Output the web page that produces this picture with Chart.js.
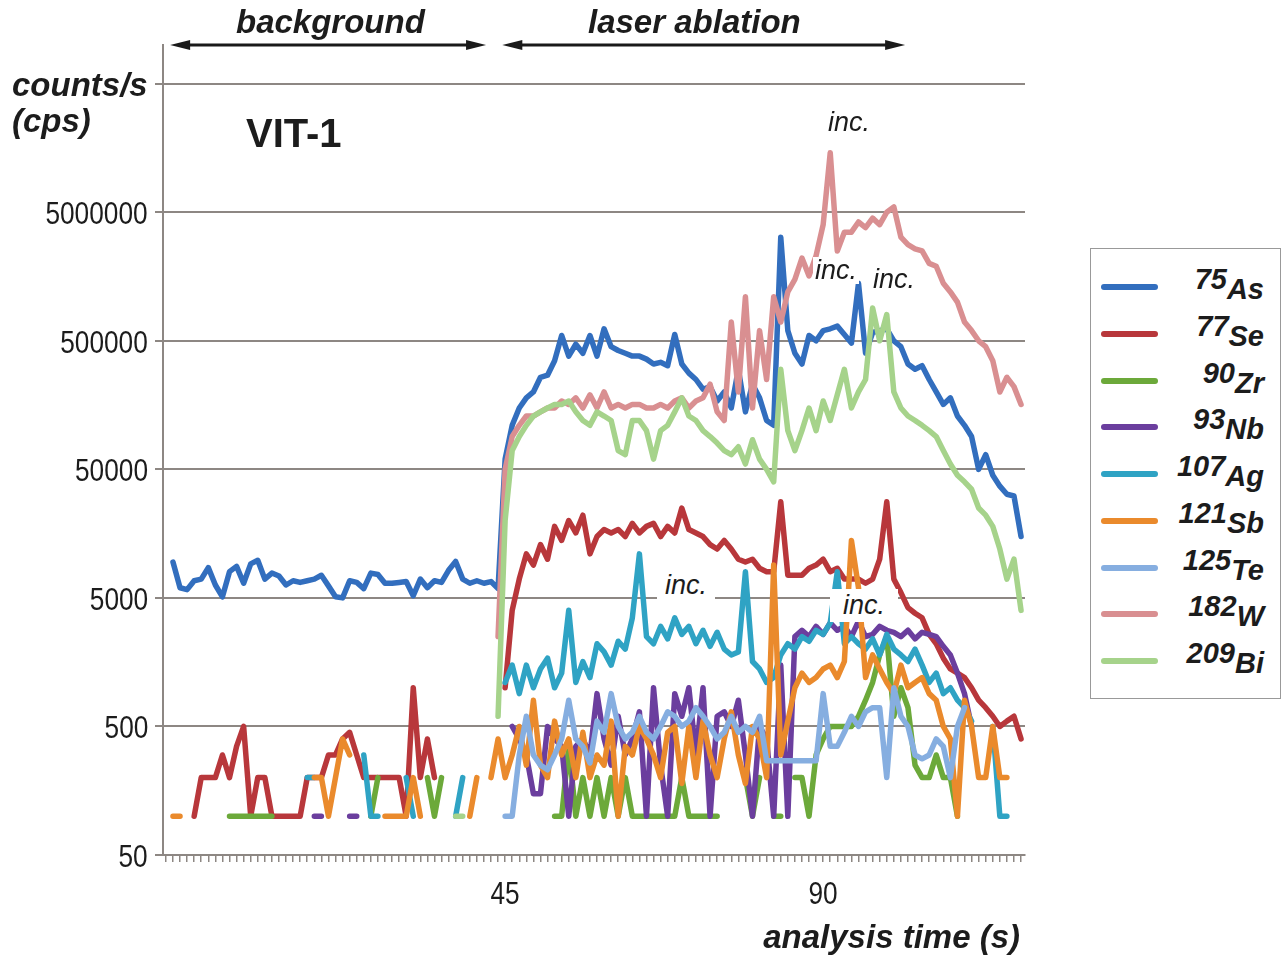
<!DOCTYPE html>
<html>
<head>
<meta charset="utf-8">
<title>VIT-1 – counts per second vs analysis time</title>
<script src="https://cdn.jsdelivr.net/npm/chart.js@4.4.1/dist/chart.umd.min.js"></script>
<style>
  html, body { margin: 0; padding: 0; background: #fff; }
  #wrap { position: relative; width: 1282px; height: 957px; overflow: hidden;
          font-family: 'Liberation Sans', Arial, sans-serif; color: #1c1c1c; }
  #chart { position: absolute; left: 0; top: 0; }
  .t { position: absolute; white-space: nowrap; line-height: 1; }
  .bi { font-weight: bold; font-style: italic; font-size: 33px; }
  .inc { font-style: italic; font-size: 27px; background: #fff; }
  .tick { position: absolute; white-space: nowrap; font-size: 32px; line-height: 32px; }
  .tick.y { transform: scaleX(0.82); transform-origin: right center; text-align: right; }
  .tick.x { transform: translateX(-50%) scaleX(0.82); transform-origin: center center; }
  #legend { position: absolute; left: 1090px; top: 248px; width: 191px; height: 451px;
            box-sizing: border-box; border: 1.5px solid #999; background: #fff; }
  #legend .swatch { position: absolute; left: 10px; width: 57px; height: 6px; border-radius: 3px; }
  #legend .lab { position: absolute; right: 16px; font-weight: bold; font-style: italic;
                 font-size: 29px; line-height: 1; white-space: nowrap; }
  #legend .lab .el { position: relative; top: 10px; }
</style>
</head>
<body>
<div id="wrap">
  <canvas id="chart" width="1282" height="957"></canvas>

  <div class="t bi" style="left:236px; top:5px;">background</div>
  <div class="t bi" style="left:588px; top:5px;">laser ablation</div>
  <div class="t bi" style="left:12px; top:68px;">counts/s</div>
  <div class="t bi" style="left:12px; top:104px;">(cps)</div>
  <div class="t" style="left:246px; top:113px; font-weight:bold; font-size:40px;">VIT-1</div>
  <div class="t bi" style="right:262px; top:920px;">analysis time (s)</div>

  <div class="t inc" style="left:828px; top:109px;">inc.</div>
  <div class="t inc" style="left:813px; top:257px; padding:0 2px;">inc.</div>
  <div class="t inc" style="left:871px; top:266px; padding:0 2px;">inc.</div>
  <div class="t inc" style="left:657px; top:569px; padding:3px 8px;">inc.</div>
  <div class="t inc" style="left:830px; top:589px; padding:3px 13px;">inc.</div>

  <div id="legend"></div>
</div>

<script>
// one point per second, t = -2 ... 118 s
const times = Array.from({ length: 121 }, (_, i) => i - 2);
const _ = null;

const isotopes = ['75As', '77Se', '90Zr', '93Nb', '107Ag', '121Sb', '125Te', '182W', '209Bi'];
const colors = ['#326ebe', '#b8373b', '#6ca93a', '#6b3e9e', '#2fa3c4', '#ea8a2c', '#86aee0', '#d98f91', '#a6d38b'];

// counts/s (gaps = below detection)
const as75 = [
  9500, 6000, 5800, 6800, 7000, 8600, 6300, 5100, 8000, 8800,
  6500, 9200, 9800, 7000, 7800, 7400, 6300, 6800, 6600, 6800,
  7000, 7500, 6200, 5100, 5000, 6800, 6600, 5900, 7800, 7600,
  6500, 6500, 6600, 6700, 5200, 7000, 6000, 6800, 6600, 8200,
  9600, 7000, 6500, 6800, 6500, 6700, 5900, 60000, 110000, 150000,
  180000, 200000, 260000, 270000, 350000, 550000, 380000, 470000, 400000, 550000,
  380000, 620000, 450000, 420000, 400000, 380000, 380000, 360000, 330000, 340000,
  320000, 560000, 330000, 280000, 250000, 210000, 220000, 170000, 200000, 150000,
  300000, 140000, 230000, 180000, 120000, 110000, 3200000, 600000, 400000, 330000,
  550000, 500000, 600000, 620000, 650000, 560000, 480000, 1400000, 400000, 580000,
  600000, 620000, 500000, 450000, 330000, 300000, 320000, 250000, 200000, 160000,
  180000, 130000, 110000, 90000, 50000, 65000, 45000, 37000, 32000, 31000,
  15000
];
const se77 = [
  _, _, _, 100, 200, 200, 200, 300, 200, 350,
  500, 100, 200, 200, 100, 100, 100, 100, 100, 200,
  200, 200, 300, 300, 400, 450, 300, 200, 200, 200,
  200, 200, 200, 100, 1000, 200, 400, 200, _, _,
  _, _, _, _, _, _, _, 1000, 4000, 7000,
  11000, 9000, 13000, 10000, 18000, 14000, 20000, 16000, 22000, 11000,
  15000, 17000, 16000, 17000, 15000, 19000, 16000, 18000, 19000, 15000,
  18000, 16000, 25000, 17000, 16000, 15000, 13000, 12000, 14000, 12000,
  10000, 9500, 10000, 8500, 8000, 8000, 28000, 7500, 7500, 7500,
  8500, 9000, 10000, 8000, 8500, 7000, 7000, 7000, 6500, 7000,
  10000, 28000, 7000, 5500, 4200, 3800, 3500, 2600, 2200, 1700,
  1400, 1300, 1200, 1000, 800, 700, 600, 500, 550, 600,
  400
];
const zr90 = [
  _, _, _, _, _, _, _, _, 100, 100,
  100, 100, 100, 100, 100, _, _, _, _, _,
  _, _, _, _, _, _, _, _, 100, 200,
  _, _, _, _, _, _, 200, 100, 200, _,
  _, _, _, _, _, _, _, _, _, _,
  _, _, _, _, 100, 100, 350, 100, 200, 100,
  200, 100, 200, 100, 200, 100, 100, 100, 100, 100,
  100, 100, 200, 100, 100, 100, 100, 100, _, _,
  _, 200, 100, 200, _, 100, 100, _, 200, 200,
  100, 300, 400, 500, 500, 500, 500, 600, 800, 1100,
  1800, 2500, 600, 1000, 700, 250, 200, 200, 300, 200,
  200, 100, _, _, _, _, _, _, _, _,
  _
];
const nb93 = [
  _, _, _, _, _, _, _, _, _, _,
  _, _, _, _, _, _, _, _, _, _,
  100, 100, _, _, _, 100, 100, _, _, _,
  _, _, _, _, _, _, _, _, _, _,
  _, _, _, _, _, _, _, _, 500, 400,
  300, 150, 150, 500, 400, 350, 100, 350, 400, 300,
  900, 400, 250, 600, 300, 400, 650, 100, 1000, 250,
  100, 900, 600, 1000, 300, 1000, 100, 600, 650, 500,
  800, 300, 100, 500, 400, 100, 1500, 100, 2500, 2800,
  2500, 3000, 2600, 3200, 2800, 3000, 2500, 3300, 2500, 2600,
  3000, 2800, 2700, 2500, 2800, 2400, 2700, 2600, 2500, 2100,
  1800, 1300, 900, 500, _, _, _, _, _, _,
  _
];
const ag107 = [
  _, _, _, _, _, _, _, _, _, _,
  _, _, _, _, _, _, _, _, _, 200,
  200, _, _, _, _, _, _, 300, 100, 100,
  _, _, _, 200, 100, _, _, _, _, _,
  100, 200, _, _, _, _, _, 1100, 1500, 900,
  1500, 1000, 1400, 1700, 1000, 1300, 4000, 1100, 1600, 1200,
  2200, 1900, 1500, 2300, 2000, 3500, 11000, 2500, 2200, 3000,
  2400, 3500, 2600, 3000, 2200, 2800, 2100, 2700, 2000, 1800,
  1900, 8000, 1600, 1400, 1100, 1200, 1800, 2200, 2000, 2500,
  2300, 2800, 2600, 3200, 8000, 2200, 2500, 2200, 2000, 2400,
  1800, 2600, 2000, 1800, 1600, 2000, 1500, 1100, 1300, 900,
  1000, 800, 700, 550, _, _, 500, 100, 100, _,
  _
];
const sb121 = [
  100, 100, _, _, _, _, _, _, _, _,
  _, _, _, _, _, _, _, _, _, _,
  200, 200, 100, 200, 400, 300, _, _, _, _,
  100, 100, 100, 100, 200, 100, _, _, _, _,
  _, _, 100, 200, _, 200, 400, 200, 300, 500,
  250, 800, 250, 200, 550, 300, 400, 200, 450, 200,
  300, 250, 550, 100, 350, 300, 500, 400, 300, 200,
  450, 500, 180, 500, 200, 550, 300, 200, 400, 650,
  300, 180, 500, 400, 200, 9000, 300, 550, 1000, 1300,
  1100, 1200, 1400, 1500, 1200, 1600, 14000, 6000, 1200, 1800,
  1400, 1100, 900, 1500, 1000, 1100, 1200, 900, 800, 500,
  400, 100, 800, 500, 200, 200, 500, 200, 200, _,
  _
];
const te125 = [
  _, _, _, _, _, _, _, _, _, _,
  _, _, _, _, _, _, _, _, _, _,
  _, _, _, _, _, _, _, _, _, _,
  _, _, _, _, _, _, _, _, _, _,
  _, _, _, _, _, _, _, 100, 100, 300,
  600, 300, 250, 230, 300, 400, 800, 400, 350, 260,
  550, 450, 900, 500, 400, 450, 600, 450, 400, 500,
  650, 600, 500, 550, 700, 600, 500, 400, 450, 600,
  450, 500, 450, 600, 270, 270, 270, 270, 270, 270,
  270, 270, 900, 350, 350, 450, 600, 500, 650, 700,
  700, 200, 1000, 600, 500, 300, 280, 300, 400, 350,
  200, 500, 700, _, _, _, _, _, _, _,
  _
];
const w182 = [
  _, _, _, _, _, _, _, _, _, _,
  _, _, _, _, _, _, _, _, _, _,
  _, _, _, _, _, _, _, _, _, _,
  _, _, _, _, _, _, _, _, _, _,
  _, _, _, _, _, _, 2500, 50000, 90000, 110000,
  130000, 130000, 140000, 150000, 150000, 170000, 160000, 180000, 150000, 190000,
  150000, 200000, 150000, 160000, 150000, 160000, 160000, 150000, 150000, 160000,
  150000, 170000, 180000, 150000, 170000, 180000, 230000, 140000, 120000, 700000,
  200000, 1100000, 150000, 600000, 250000, 1100000, 700000, 1200000, 1500000, 2200000,
  1600000, 2300000, 4000000, 14500000, 2500000, 3500000, 3500000, 4200000, 3800000, 4500000,
  4000000, 5000000, 5500000, 3200000, 2800000, 2600000, 2500000, 2000000, 1900000, 1400000,
  1200000, 1000000, 700000, 600000, 500000, 450000, 350000, 200000, 260000, 220000,
  160000
];
const bi209 = [
  _, _, _, _, _, _, _, _, _, _,
  _, _, _, _, _, _, _, _, _, _,
  _, _, _, _, _, _, _, _, _, _,
  _, _, _, _, _, _, _, _, _, _,
  100, 100, _, _, _, _, 600, 20000, 70000, 90000,
  110000, 130000, 140000, 150000, 160000, 160000, 170000, 140000, 120000, 110000,
  140000, 130000, 120000, 70000, 65000, 120000, 120000, 100000, 60000, 100000,
  110000, 140000, 180000, 130000, 120000, 100000, 90000, 80000, 70000, 65000,
  75000, 55000, 85000, 60000, 50000, 40000, 300000, 100000, 70000, 100000,
  150000, 100000, 170000, 120000, 190000, 300000, 150000, 200000, 250000, 900000,
  500000, 800000, 200000, 150000, 130000, 120000, 110000, 100000, 90000, 70000,
  55000, 45000, 40000, 35000, 25000, 22000, 18000, 12000, 7000, 10000,
  4000
];
const seriesValues = [as75, se77, zr90, nb93, ag107, sb121, te125, w182, bi209];

const yTicks = [50, 500, 5000, 50000, 500000, 5000000, 50000000];
const xLabels = [45, 90];
// time spans of the two arrows above the plot
const phases = [[-2.4, 42.3], [44.6, 101.6]];

const gridColor = '#8d8783';

const datasets = seriesValues.map((vals, i) => ({
  label: isotopes[i],
  data: vals.map((v, k) => ({ x: times[k], y: v })),
  borderColor: colors[i],
  backgroundColor: colors[i],
  borderWidth: 5.5,
  pointRadius: 0,
  tension: 0,
  spanGaps: false,
  borderJoinStyle: 'round',
  borderCapStyle: 'round',
  order: seriesValues.length - i
}));

function drawArrow(ctx, x1, x2, y) {
  const head = 20, half = 5;
  ctx.save();
  ctx.strokeStyle = '#1a1a1a';
  ctx.fillStyle = '#1a1a1a';
  ctx.lineWidth = 3;
  ctx.beginPath();
  ctx.moveTo(x1 + head - 2, y);
  ctx.lineTo(x2 - head + 2, y);
  ctx.stroke();
  [[x1, 1], [x2, -1]].forEach(([x, d]) => {
    ctx.beginPath();
    ctx.moveTo(x, y);
    ctx.lineTo(x + d * head, y - half);
    ctx.lineTo(x + d * head, y + half);
    ctx.closePath();
    ctx.fill();
  });
  ctx.restore();
}

const arrowPlugin = {
  id: 'phaseArrows',
  afterDraw(chart) {
    const x = chart.scales.x;
    phases.forEach(([a, b]) => drawArrow(chart.ctx, x.getPixelForValue(a), x.getPixelForValue(b), 45));
  }
};

const chart = new Chart(document.getElementById('chart'), {
  type: 'line',
  data: { datasets },
  plugins: [arrowPlugin],
  options: {
    responsive: false,
    animation: false,
    devicePixelRatio: 1,
    layout: { padding: { top: 45, right: 257, bottom: 0, left: 0 } },
    plugins: { legend: { display: false }, tooltip: { enabled: false } },
    scales: {
      x: {
        type: 'linear',
        min: -3.41,
        max: 118.56,
        afterBuildTicks: (s) => {
          const t = [];
          for (let v = -3; v <= 118; v++) t.push({ value: v });
          s.ticks = t;
        },
        afterFit: (s) => { s.height = 102; },
        grid: { drawOnChartArea: false, drawTicks: true, tickLength: 7, color: gridColor, lineWidth: 1.5 },
        border: { display: true, color: gridColor, width: 2 },
        ticks: { display: false, autoSkip: false }
      },
      y: {
        type: 'logarithmic',
        min: 50,
        max: 100000000,
        afterBuildTicks: (s) => { s.ticks = yTicks.map(v => ({ value: v })); },
        afterFit: (s) => { s.width = 163; },
        grid: { color: gridColor, lineWidth: 2, drawTicks: true, tickLength: 8 },
        border: { display: true, color: gridColor, width: 2 },
        ticks: { display: false }
      }
    }
  }
});

// tick labels as text in the page, in a narrow face like the original
const wrap = document.getElementById('wrap');
yTicks.filter(v => v !== 50000000).forEach(v => {
  const d = document.createElement('div');
  d.className = 'tick y';
  d.textContent = String(v);
  d.style.right = (1282 - 148) + 'px';
  d.style.top = (chart.scales.y.getPixelForValue(v) - 15) + 'px';
  wrap.appendChild(d);
});
xLabels.forEach(v => {
  const d = document.createElement('div');
  d.className = 'tick x';
  d.textContent = String(v);
  d.style.left = chart.scales.x.getPixelForValue(v) + 'px';
  d.style.top = '877px';
  wrap.appendChild(d);
});

// legend with mass numbers raised above the element symbol
const legend = document.getElementById('legend');
isotopes.forEach((iso, i) => {
  const cy = 38 + i * 46.75;
  const mass = iso.match(/^\d+/)[0];
  const el = iso.slice(mass.length);
  const sw = document.createElement('div');
  sw.className = 'swatch';
  sw.style.top = (cy - 3) + 'px';
  sw.style.background = colors[i];
  legend.appendChild(sw);
  const lab = document.createElement('div');
  lab.className = 'lab';
  lab.style.top = (cy - 22) + 'px';
  lab.innerHTML = mass + '<span class="el">' + el + '</span>';
  legend.appendChild(lab);
});
</script>
</body>
</html>
